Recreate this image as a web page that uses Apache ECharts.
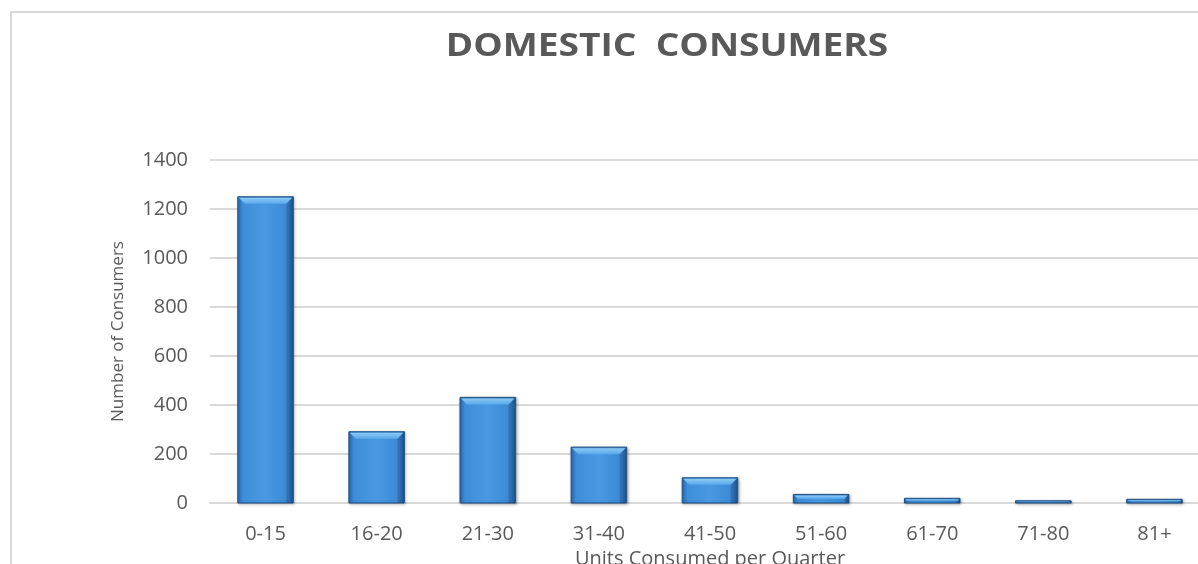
<!DOCTYPE html>
<html>
<head>
<meta charset="utf-8">
<script src="https://cdn.jsdelivr.net/npm/echarts@6/dist/echarts.min.js"></script>
<style>
  html, body { margin: 0; padding: 0; background: #fff; }
  #domestic-consumers { width: 1198px; height: 564px; }
</style>
</head>
<body>
<div id="domestic-consumers"></div>
<script>
var categories = ['0-15', '16-20', '21-30', '31-40', '41-50', '51-60', '61-70', '71-80', '81+'];
var consumers = [1250, 291, 431, 228, 103, 35, 19, 9, 15];
var yTicks = [0, 200, 400, 600, 800, 1000, 1200, 1400];

// bar with a bevelled top, drawn from the axis scales
function bevelBar(params, api){
	var top = api.coord([api.value(0), api.value(1)]);
	var base = api.coord([api.value(0), 0]);
	var w = api.size([1, 0])[0] * 0.5;
	var x0 = top[0] - w / 2, x1 = top[0] + w / 2;
	var y0 = top[1], y1 = base[1];
	var h = y1 - y0;
	var b = Math.min(7, h / 2);

	return {
		type: 'group',
		children: [
			{
				type: 'rect',
				shape: { x: x0, y: y0, width: w, height: h },
				style: {
					fill: new echarts.graphic.LinearGradient(0, 0, 1, 0, [
						{offset: 0, color: '#2b6fb6'},
						{offset: 0.1, color: '#3e8dd9'},
						{offset: 0.5, color: '#4899e2'},
						{offset: 0.9, color: '#3c88d3'},
						{offset: 1, color: '#1d5590'}
					]),
					stroke: '#1f4f82',
					lineWidth: 1,
					shadowColor: 'rgba(0,0,0,0.3)',
					shadowBlur: 3,
					shadowOffsetX: 1,
					shadowOffsetY: 1
				}
			},
			{
				type: 'polygon',
				shape: { points: [[x0 + 1, y0 + 1], [x1 - 1, y0 + 1], [x1 - b, y0 + b], [x0 + b, y0 + b]] },
				style: {
					fill: new echarts.graphic.LinearGradient(0, 0, 0, 1, [
						{offset: 0, color: '#8ccaf5'},
						{offset: 1, color: '#5aa8ea'}
					])
				}
			},
			{
				type: 'polygon',
				shape: { points: [[x1 - 1, y0 + 1], [x1 - 1, y1], [x1 - b, y1], [x1 - b, y0 + b]] },
				style: { fill: 'rgba(20,60,110,0.3)' }
			}
		]
	};
}

function domesticConsumers(){
	var chart = echarts.init(document.getElementById('domestic-consumers'));

	var option = {
		backgroundColor: '#fff',
		textStyle: { fontFamily: 'Open Sans' },
		graphic: [
			{
				type: 'rect',
				shape: { x: 11, y: 12, width: 1200, height: 600 },
				style: { fill: 'none', stroke: '#d9d9d9', lineWidth: 2 },
				silent: true
			},
			{
				// title, a little wider than the font draws it
				type: 'text',
				x: 667,
				y: 47,
				scaleX: 1.16,
				style: {
					text: 'DOMESTIC  CONSUMERS',
					textAlign: 'center',
					textVerticalAlign: 'middle',
					font: 'bold 32px "Open Sans"',
					fill: '#595959'
				}
			}
		],
		grid: { left: 210, right: -12, top: 160, bottom: 61, containLabel: false, outerBoundsMode: 'none' },
		xAxis: {
			type: 'category',
			data: categories,
			name: 'Units Consumed per Quarter',
			nameLocation: 'middle',
			nameGap: 44,
			nameTextStyle: { fontSize: 20, color: '#595959' },
			axisLine: { lineStyle: { color: '#d9d9d9', width: 2 } },
			axisTick: { show: false },
			axisLabel: { fontSize: 20, color: '#595959', margin: 21 }
		},
		yAxis: {
			type: 'value',
			min: yTicks[0],
			max: yTicks[yTicks.length - 1],
			interval: 200,
			name: 'Number of Consumers',
			nameLocation: 'middle',
			nameGap: 83,
			nameTextStyle: { fontSize: 17, color: '#595959' },
			axisLine: { show: false },
			axisTick: { show: false },
			axisLabel: { fontSize: 20, color: '#595959', margin: 22, formatter: function(v){ return String(v); } },
			splitLine: { lineStyle: { color: '#d9d9d9', width: 2 } }
		},
		series: [{
			name: 'Consumers',
			type: 'custom',
			renderItem: bevelBar,
			encode: { x: 0, y: 1 },
			data: consumers.map(function(v, i){ return [i, v]; })
		}]
	};

	chart.setOption(option);
}

domesticConsumers();
</script>
</body>
</html>
